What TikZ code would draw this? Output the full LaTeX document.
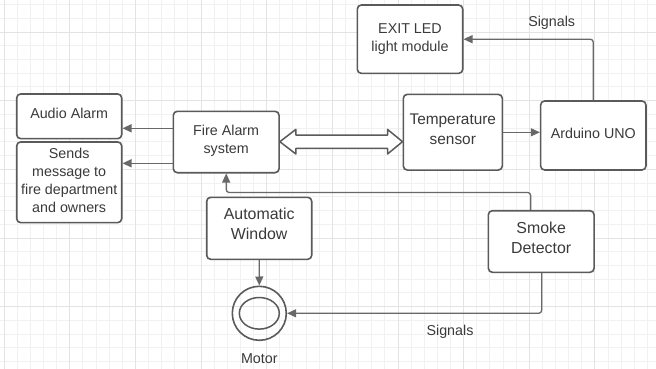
\documentclass[tikz,border=0pt]{standalone}
\usepackage{fontspec}
\setmainfont{Liberation Sans}
\usetikzlibrary{arrows.meta,calc}
\definecolor{boxline}{HTML}{5A5A5A}
\definecolor{conline}{HTML}{686868}
\definecolor{txt}{HTML}{3A3A3A}
\definecolor{gridminor}{HTML}{F1F1F1}
\definecolor{gridmajor}{HTML}{E3E3E3}
\begin{document}
\begin{tikzpicture}[x=1pt,y=-1pt,
  every node/.style={font=\fontsize{14.3}{18}\selectfont, text=txt},
  bigtext/.style={font=\fontsize{15.9}{20}\selectfont},
  midtext/.style={font=\fontsize{15.4}{20.3}\selectfont},
  blk/.style={draw=boxline, line width=1.6pt, rounded corners=4pt, fill=white, align=center, inner sep=0pt},
  arr/.style={draw=conline, line width=1.3pt, -{Triangle[length=9pt,width=8pt]}, rounded corners=3pt},
  hollow/.style={draw=boxline, line width=1.5pt, fill=white, line join=round},
  lbl/.style={inner sep=0pt}]
\useasboundingbox (0,0) rectangle (656,369);
\fill[white] (0,0) rectangle (656,369);
% grid
\foreach \k in {0,...,49} {\draw[gridminor, line width=0.8pt] ({4+13.13*\k},0) -- ({4+13.13*\k},369);}
\foreach \k in {0,...,26} {\draw[gridminor, line width=0.8pt] (0,{4.5+13.73*\k}) -- (656,{4.5+13.73*\k});}
\foreach \k in {0,5,...,45} {\draw[gridmajor, line width=0.8pt] ({4+13.13*\k},0) -- ({4+13.13*\k},369);}
\foreach \k in {2,7,...,26} {\draw[gridmajor, line width=0.8pt] (0,{4.5+13.73*\k}) -- (656,{4.5+13.73*\k});}
% blocks
\node[blk, minimum width=105pt, minimum height=44.7pt, text depth=6pt] (audio) at (69.2,116.3) {Audio Alarm};
\node[blk, minimum width=105pt, minimum height=80.7pt, text depth=4pt] (sends) at (69.2,182.3) {Sends\\message to\\fire department\\and owners};
\node[blk, minimum width=105.7pt, minimum height=61.4pt, text depth=6pt] (fire) at (226.2,142) {Fire Alarm\\system};
\node[blk, midtext, minimum width=99pt, minimum height=75.7pt, text depth=6pt] (temp) at (452.8,132.2) {Temperature\\sensor};
\node[blk, minimum width=105.3pt, minimum height=69pt, text depth=4pt] (arduino) at (593.3,135.5) {Arduino UNO};
\node[blk, minimum width=105.4pt, minimum height=68.3pt, text depth=3pt] (exit) at (410,39.2) {EXIT LED\\light module};
\node[blk, bigtext, minimum width=105pt, minimum height=62pt, text depth=10pt] (window) at (259.2,228.3) {Automatic\\Window};
\node[blk, bigtext, minimum width=105.7pt, minimum height=61.6pt, text depth=8pt] (smoke) at (541.2,241.5) {Smoke\\Detector};
\node[circle, draw=boxline, line width=1.6pt, minimum size=54pt, inner sep=0pt] (motor) at (259.3,313.3) {};
\draw[boxline, line width=1.5pt] (motor.center) ellipse [x radius=20pt, y radius=15.8pt];
% labels
\node[lbl] (motorlbl) at (259.3,358.5) {Motor};
\node[lbl] (sigtop) at (551.7,23.3) {Signals};
\node[lbl] (sigbot) at (450,331.7) {Signals};
% connectors
\draw[arr] ([yshift=13.7pt]fire.west) -- ([yshift=13.7pt]fire.west -| audio.east);
\draw[arr] ([yshift=-21.3pt]fire.west) -- ([yshift=-21.3pt]fire.west -| audio.east);
\draw[arr] (temp.east |- 0,132.3) -- (arduino.west |- 0,132.3);
\draw[arr] (arduino.north) |- (exit.east);
\draw[arr] ([xshift=-10.5pt]smoke.north) |- ($(fire.south)+(0,19)$) -- (fire.south);
\draw[arr] (window.south) -- (motor.north);
\draw[arr] ([xshift=0.5pt]smoke.south) |- (motor.east);
% double hollow arrow
\coordinate (dl) at ($(fire.east)+(0,-0.3)$);
\coordinate (dr) at (dl -| temp.west);
\draw[hollow] (dl) -- ++(16,-12.3) -- ++(0,5.6) -- ($(dr)+(-15,-6.7)$) -- ++(0,-5.6) -- (dr)
  -- ++(-15,12.3) -- ++(0,-5.6) -- ($(dl)+(16,6.7)$) -- ++(0,5.6) -- cycle;
\end{tikzpicture}
\end{document}
